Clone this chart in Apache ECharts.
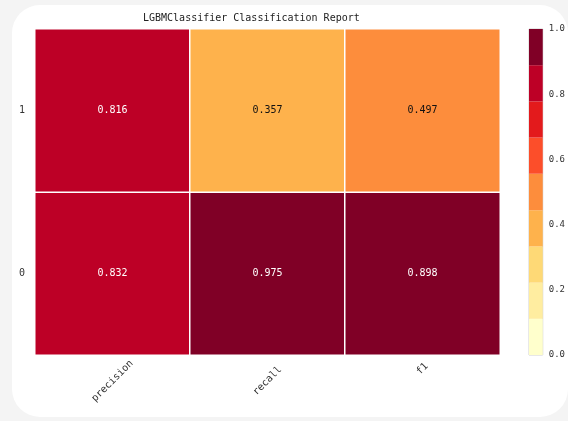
<!DOCTYPE html>
<html><head><meta charset="utf-8">
<script src="https://cdn.jsdelivr.net/npm/echarts@6/dist/echarts.min.js"></script>
<style>
html,body{margin:0;padding:0;background:#f4f4f4;width:568px;height:421px;overflow:hidden;}
#card{position:absolute;left:12px;top:5px;width:556px;height:412px;background:#fff;border-radius:28px;}
#c{position:absolute;left:0;top:0;width:568px;height:421px;}
</style></head>
<body><div id="card"></div><div id="c"></div>
<script>
const titleText = 'LGBMClassifier Classification Report';
const metrics = ['precision', 'recall', 'f1'];
const classes = ['0', '1'];
const class0Values = [0.832, 0.975, 0.898];
const class1Values = [0.816, 0.357, 0.497];
const binEdges = [0, 0.111, 0.222, 0.333, 0.444, 0.556, 0.667, 0.778, 0.889, 1.0];
const binColors = ['#ffffcc','#ffeda0','#fed976','#feb24c','#fd8d3c','#fc4e2a','#e31a1c','#bd0026','#800026'];
const colorbarTicks = [0, 0.2, 0.4, 0.6, 0.8, 1.0];

const FONT = 'DejaVu Sans Mono';
const heatData = [];
metrics.forEach((m, i) => {
  heatData.push([i, 0, class0Values[i]]);
  heatData.push([i, 1, class1Values[i]]);
});
const pieces = binColors.map((c, i) => ({min: binEdges[i], max: binEdges[i+1], color: c}));
const cbSeries = binColors.map((c, i) => ({
  type: 'bar', stack: 'cb', xAxisIndex: 1, yAxisIndex: 1, barWidth: '100%',
  data: [binEdges[i+1] - binEdges[i]], itemStyle: {color: c, borderWidth: 0}, silent: true, animation: false
}));

const chart = echarts.init(document.getElementById('c'));
chart.setOption({
  animation: false,
  title: {text: titleText, left: 138, top: 8, textStyle: {fontFamily: FONT, fontSize: 10, fontWeight: 'normal', color: '#222'}},
  grid: [
    {left: 35, top: 29, width: 465, height: 326, show: true, borderColor: '#d0d0d0', borderWidth: 1, backgroundColor: 'transparent'},
    {left: 529, top: 29, width: 16, height: 326, show: true, borderColor: '#d0d0d0', borderWidth: 1}
  ],
  xAxis: [
    {type: 'category', data: metrics, gridIndex: 0,
     axisLine: {show: false}, axisTick: {show: false}, splitLine: {show: false},
     axisLabel: {rotate: 45, align: 'center', verticalAlign: 'middle', margin: 26, color: '#333', fontFamily: FONT, fontSize: 10,
       formatter: function (v) { return v === 'f1' ? '{f|' + v + '}' : v; },
       rich: {f: {fontFamily: FONT, fontSize: 10, color: '#333', padding: [0, 0, 17, 17]}}}},
    {type: 'category', data: ['cb'], gridIndex: 1, show: false}
  ],
  yAxis: [
    {type: 'category', data: classes, gridIndex: 0,
     axisLine: {show: false}, axisTick: {show: false}, splitLine: {show: false},
     axisLabel: {margin: 10, color: '#333', fontFamily: FONT, fontSize: 10}},
    {type: 'value', gridIndex: 1, min: 0, max: 1, interval: 0.2, position: 'right',
     axisLine: {show: false}, axisTick: {show: false}, splitLine: {show: false},
     axisLabel: {margin: 6, color: '#333', fontFamily: FONT, fontSize: 9, formatter: v => v.toFixed(1)}}
  ],
  visualMap: {type: 'piecewise', show: false, seriesIndex: 0, dimension: 2, pieces: pieces},
  series: [
    {type: 'heatmap', xAxisIndex: 0, yAxisIndex: 0, data: heatData,
     itemStyle: {borderColor: '#fff', borderWidth: 1.5},
     label: {show: true, fontFamily: FONT, fontSize: 10,
       formatter: p => (p.value[2] > 0.5 ? '{w|' : '{k|') + p.value[2].toFixed(3) + '}',
       rich: {w: {color: '#fff', fontFamily: FONT, fontSize: 10}, k: {color: '#111', fontFamily: FONT, fontSize: 10}}},
     emphasis: {disabled: true}}
  ].concat(cbSeries)
});
</script></body></html>
